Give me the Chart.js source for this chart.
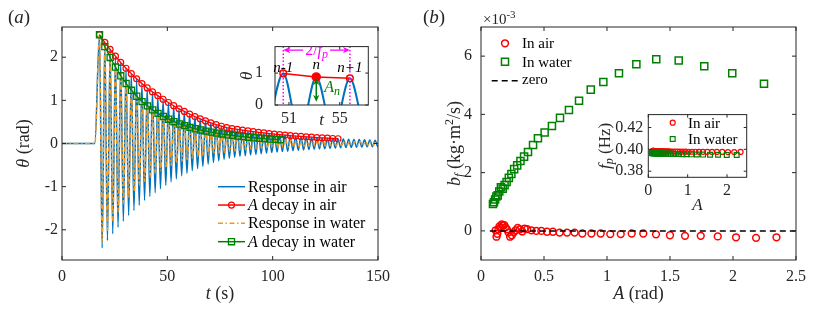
<!DOCTYPE html>
<html><head><meta charset="utf-8">
<script src="https://cdn.jsdelivr.net/npm/chart.js@4.4.1/dist/chart.umd.min.js"></script>
<style>
html,body{margin:0;padding:0;background:#fff;}
#wrap{position:relative;width:830px;height:312px;overflow:hidden;background:#fff;}
#wrap canvas{position:absolute;}
</style></head><body>
<div id="wrap">
<canvas id="cA" width="415" height="312" style="left:0;top:0;width:415px;height:312px"></canvas>
<canvas id="cB" width="415" height="312" style="left:415px;top:0;width:415px;height:312px"></canvas>
<canvas id="cAi" width="150" height="110" style="left:230px;top:25px;width:150px;height:110px"></canvas>
<canvas id="cBi" width="160" height="115" style="left:595px;top:100px;width:160px;height:115px"></canvas>
</div>
<script>
// ---------------- DATA ----------------
// (a) time response, t in s, theta in rad
const tTicks = [0, 50, 100, 150];
const thetaTicks = [-2, -1, 0, 1, 2];
const preT = [0, 15.6];
const preTheta = [0, 0];
const airPeakT = [17.80,20.32,22.83,25.35,27.86,30.38,32.90,35.41,37.93,40.44,42.96,45.48,47.99,50.51,53.02,55.54,58.06,60.57,63.09,65.60,68.12,70.64,73.15,75.67,78.18,80.70,83.22,85.73,88.25,90.76,93.28,95.80,98.31,100.83,103.34,105.86,108.38,110.89,113.41,115.92,118.44,120.96,123.47,125.99,128.50,131.02,133.54,136.05,138.57,141.08,143.60,146.12,148.63,151.15];
const airPeakTheta = [2.52,2.345,2.183,2.024,1.879,1.744,1.619,1.50,1.389,1.288,1.196,1.109,1.026,0.95,0.876,0.804,0.743,0.683,0.624,0.571,0.524,0.479,0.439,0.40,0.367,0.346,0.327,0.309,0.291,0.275,0.26,0.245,0.231,0.218,0.206,0.195,0.184,0.173,0.164,0.155,0.146,0.138,0.130,0.123,0.116,0.11,0.105,0.10,0.095,0.09,0.086,0.082,0.078,0.075];
const airDecayCount = 46;
const airTroughT = [19.06,21.58,24.09,26.61,29.12,31.64,34.16,36.67,39.19,41.70,44.22,46.74,49.25,51.77,54.28,56.80,59.32,61.83,64.35,66.86,69.38,71.90,74.41,76.93,79.44,81.96,84.48,86.99,89.51,92.02,94.54,97.06,99.57,102.09,104.60,107.12,109.64,112.15,114.67,117.18,119.70,122.22,124.73,127.25,129.76,132.28,134.80,137.31,139.83,142.34,144.86,147.38,149.89];
const airTroughTheta = [-2.42,-2.25,-2.09,-1.94,-1.80,-1.67,-1.55,-1.43,-1.32,-1.23,-1.14,-1.05,-0.97,-0.89,-0.82,-0.75,-0.69,-0.63,-0.58,-0.53,-0.48,-0.44,-0.40,-0.365,-0.34,-0.32,-0.30,-0.285,-0.268,-0.253,-0.238,-0.224,-0.211,-0.199,-0.188,-0.178,-0.168,-0.159,-0.15,-0.141,-0.133,-0.126,-0.119,-0.112,-0.106,-0.10,-0.095,-0.09,-0.086,-0.082,-0.078,-0.074,-0.071];
const waterPeakT = [17.80,20.33,22.85,25.38,27.90,30.43,32.95,35.48,38.00,40.53,43.05,45.58,48.10,50.63,53.15,55.68,58.20,60.73,63.25,65.78,68.30,70.83,73.35,75.88,78.40,80.93,83.45,85.98,88.50,91.03,93.55,96.08,98.60,101.13,103.65,106.18,108.70,111.23,113.75,116.28,118.80,121.33,123.85,126.38,128.90,131.43,133.95,136.48,139.00,141.53,144.05,146.58,149.10,151.63];
const waterPeakTheta = [2.52,2.246,1.994,1.772,1.569,1.391,1.233,1.095,0.971,0.871,0.778,0.698,0.627,0.563,0.505,0.452,0.413,0.373,0.342,0.313,0.287,0.263,0.241,0.221,0.203,0.187,0.172,0.158,0.145,0.133,0.122,0.112,0.103,0.095,0.088,0.082,0.077,0.073,0.069,0.066,0.063,0.06,0.058,0.056,0.054,0.052,0.05,0.048,0.046,0.045,0.044,0.043,0.042,0.041];
const waterDecayCount = 35;
const waterTroughT = [19.06,21.59,24.11,26.64,29.16,31.69,34.21,36.74,39.26,41.79,44.31,46.84,49.36,51.89,54.41,56.94,59.46,61.99,64.51,67.04,69.56,72.09,74.61,77.14,79.66,82.19,84.71,87.24,89.76,92.29,94.81,97.34,99.86,102.39,104.91,107.44,109.96,112.49,115.01,117.54,120.06,122.59,125.11,127.64,130.16,132.69,135.21,137.74,140.26,142.79,145.31,147.84,150.36];
const waterTroughTheta = [-2.26,-2.01,-1.79,-1.59,-1.41,-1.25,-1.11,-0.98,-0.875,-0.78,-0.70,-0.63,-0.565,-0.507,-0.455,-0.41,-0.373,-0.34,-0.311,-0.285,-0.261,-0.239,-0.219,-0.201,-0.185,-0.171,-0.157,-0.144,-0.132,-0.121,-0.111,-0.102,-0.094,-0.087,-0.081,-0.076,-0.071,-0.067,-0.064,-0.061,-0.058,-0.056,-0.054,-0.052,-0.05,-0.048,-0.047,-0.045,-0.043,-0.042,-0.041,-0.04,-0.039];

// (a) inset: zoom on peaks n-1, n, n+1
const insetTTicks = [51, 55];
const insetThetaTicks = [0, 1];
const insetRespT = [49.25,50.55,51.85,53.15,54.48,55.80,57.10,58.40];
const insetRespTheta = [-1.0,0.99,-0.93,0.88,-0.86,0.84,-0.80,0.78];
const insetPeakT = [50.55, 53.15, 55.80];
const insetPeakTheta = [0.99, 0.88, 0.84];
const insetPeakLabels = ['n-1', 'n', 'n+1'];
const periodArrowTheta = 1.72;
const amplitudeArrowTheta = [0.84, 0.10];

// (b) damping coefficient b_f (x 1e-3 kg m^2/s) vs amplitude A (rad)
const ATicks = [0, 0.5, 1, 1.5, 2, 2.5];
const bfTicks = [0, 2, 4, 6];
const bfAirA = [2.345,2.183,2.024,1.879,1.744,1.619,1.50,1.389,1.288,1.196,1.109,1.026,0.95,0.876,0.804,0.743,0.683,0.624,0.571,0.524,0.479,0.439,0.40,0.367,0.346,0.327,0.309,0.291,0.275,0.26,0.245,0.231,0.218,0.206,0.195,0.184,0.173,0.164,0.155,0.146,0.138,0.130,0.123,0.116];
const bfAir = [-0.22,-0.24,-0.22,-0.19,-0.17,-0.17,-0.15,-0.12,-0.09,-0.09,-0.11,-0.11,-0.09,-0.09,-0.09,-0.06,-0.06,-0.06,-0.03,-0.03,0.00,0.00,0.02,0.06,0.08,-0.02,0.05,0.10,0.02,-0.05,-0.15,-0.20,-0.05,0.05,0.12,0.20,0.18,0.22,0.10,0.15,0.05,-0.10,-0.20,0.02];
const bfWaterA = [2.246,1.994,1.772,1.569,1.391,1.233,1.095,0.971,0.871,0.778,0.698,0.627,0.563,0.505,0.452,0.413,0.373,0.342,0.313,0.287,0.263,0.241,0.221,0.203,0.187,0.172,0.158,0.145,0.133,0.122,0.112,0.103,0.095];
const bfWater = [5.05,5.41,5.65,5.85,5.89,5.72,5.41,5.11,4.85,4.47,4.15,3.88,3.60,3.38,3.18,2.95,2.71,2.55,2.40,2.25,2.12,1.95,1.82,1.68,1.57,1.45,1.50,1.35,1.22,1.18,1.08,0.98,0.92];
const zeroA = [0.07, 2.5];
const zeroBf = [0, 0];

// (b) inset: peak frequency f_p (Hz) vs A
const fpATicks = [0, 1, 2];
const fpTicks = [0.38, 0.40, 0.42];
const fpAir = [0.3976,0.3975,0.3975,0.3976,0.3976,0.3976,0.3977,0.3977,0.3977,0.3978,0.3978,0.3978,0.3979,0.3979,0.3979,0.3980,0.3980,0.3980,0.3980,0.3981,0.3981,0.3981,0.3981,0.3982,0.3982,0.3982,0.3982,0.3982,0.3983,0.3983,0.3983,0.3983,0.3983,0.3983,0.3984,0.3984,0.3984,0.3984,0.3984,0.3984,0.3985,0.3985,0.3985,0.3985];
const fpWater = [0.3948,0.3949,0.3950,0.3951,0.3952,0.3953,0.3954,0.3955,0.3956,0.3957,0.3958,0.3959,0.3960,0.3960,0.3961,0.3961,0.3962,0.3962,0.3962,0.3963,0.3963,0.3963,0.3964,0.3964,0.3964,0.3964,0.3965,0.3965,0.3965,0.3965,0.3965,0.3966,0.3966];

// ---------------- STYLE / HELPERS ----------------
const SERIF = '"Liberation Serif","Times New Roman",serif';
const AX = '#262626';
const C = {blue:'#0072BD', orange:'#EE9A26', red:'#FF0000', green:'#008000', mag:'#FF00FF', black:'#000000'};
Chart.defaults.font.family = SERIF;
Chart.defaults.font.size = 16;
Chart.defaults.color = AX;

function fnt(s, i){ return (i ? 'italic ' : '') + s + 'px ' + SERIF; }
function rich(ctx, parts, x, y, align, color){
  let w = 0;
  for (const p of parts){ ctx.font = fnt(p.s, p.i); w += ctx.measureText(p.t).width; }
  let cx = align === 'center' ? x - w/2 : (align === 'right' ? x - w : x);
  ctx.textAlign = 'left'; ctx.textBaseline = 'alphabetic';
  for (const p of parts){ ctx.font = fnt(p.s, p.i); ctx.fillStyle = p.c || color || AX; ctx.fillText(p.t, cx, y + (p.dy || 0)); cx += ctx.measureText(p.t).width; }
  return w;
}
function richRot(ctx, parts, x, y, color){ ctx.save(); ctx.translate(x, y); ctx.rotate(-Math.PI/2); rich(ctx, parts, 0, 0, 'center', color); ctx.restore(); }
function mark(ctx, style, x, y, r, color, lw, fill){
  ctx.save(); ctx.strokeStyle = color; ctx.lineWidth = lw; ctx.beginPath();
  if (style === 'circle') ctx.arc(x, y, r, 0, Math.PI*2);
  else { const s = r * Math.SQRT1_2; ctx.rect(x - s, y - s, 2*s, 2*s); }
  if (fill){ ctx.fillStyle = color; ctx.fill(); }
  ctx.stroke(); ctx.restore();
}
function seg(ctx, x1, y1, x2, y2, color, lw, dash){
  ctx.save(); ctx.strokeStyle = color; ctx.lineWidth = lw; ctx.setLineDash(dash || []);
  ctx.beginPath(); ctx.moveTo(x1, y1); ctx.lineTo(x2, y2); ctx.stroke(); ctx.restore();
}
function head(ctx, xt, yt, dx, dy, color){ // tip at (xt,yt), pointing along (dx,dy)
  const L = 7, W = 3.2, px = -dy, py = dx;
  ctx.save(); ctx.fillStyle = color; ctx.beginPath();
  ctx.moveTo(xt, yt);
  ctx.lineTo(xt - dx*L + px*W, yt - dy*L + py*W);
  ctx.lineTo(xt - dx*L*0.7, yt - dy*L*0.7);
  ctx.lineTo(xt - dx*L - px*W, yt - dy*L - py*W);
  ctx.closePath(); ctx.fill(); ctx.restore();
}
function pts(xs, ys){ return xs.map((x, i) => ({x: x, y: ys[i]})); }
function response(pT, pV, tT, tV){
  const out = pts(preT, preTheta);
  for (let i = 0; i < pT.length; i++){ out.push({x: pT[i], y: pV[i]}); if (i < tT.length) out.push({x: tT[i], y: tV[i]}); }
  return out;
}
function axis(min, max, ticks, o){
  return {
    type: 'linear', min: min, max: max,
    grid: {display: false, drawTicks: false}, border: {display: false},
    afterBuildTicks: s => { s.ticks = ticks.map(v => ({value: v})); },
    afterFit: s => { if (o.w != null) s.width = o.w; if (o.h != null) s.height = o.h; },
    ticks: {padding: o.pad, maxRotation: 0, autoSkip: false, color: AX, font: {size: o.fs || 16, family: SERIF},
      callback: o.fmt || (v => String(v))}
  };
}
const boxTicks = {
  id: 'boxTicks',
  afterDatasetsDraw(chart, args, opts){
    const {ctx, chartArea: a, scales: {x, y}} = chart;
    const L = opts.len || 4;
    ctx.save(); ctx.strokeStyle = AX; ctx.lineWidth = 1; ctx.beginPath();
    for (const t of x.ticks){ const p = x.getPixelForValue(t.value); ctx.moveTo(p, a.bottom); ctx.lineTo(p, a.bottom - L); ctx.moveTo(p, a.top); ctx.lineTo(p, a.top + L); }
    for (const t of y.ticks){ const p = y.getPixelForValue(t.value); ctx.moveTo(a.left, p); ctx.lineTo(a.left + L, p); ctx.moveTo(a.right, p); ctx.lineTo(a.right - L, p); }
    ctx.stroke();
    ctx.strokeRect(a.left, a.top, a.right - a.left, a.bottom - a.top);
    ctx.restore();
  }
};
const whiteBg = { id: 'whiteBg', beforeDraw(chart){ const {ctx, chartArea: a} = chart; ctx.save(); ctx.fillStyle = '#fff'; ctx.fillRect(a.left, a.top, a.right - a.left, a.bottom - a.top); ctx.restore(); } };
const base = { responsive: false, animation: false, events: [], devicePixelRatio: 1 };
const noLegend = { legend: {display: false}, tooltip: {enabled: false} };

// ---------------- (a) MAIN ----------------
const decorA = {
  id: 'decorA',
  afterDraw(chart){
    const {ctx, chartArea: a} = chart;
    rich(ctx, [{t:'(', s:19}, {t:'a', s:19, i:true}, {t:')', s:19}], 8, 23, 'left');
    rich(ctx, [{t:'t', s:18, i:true}, {t:' (s)', s:18}], (a.left + a.right)/2, 299, 'center');
    richRot(ctx, [{t:'θ', s:18, i:true}, {t:' (rad)', s:18}], 29, (a.top + a.bottom)/2);
    const x0 = 218, x1 = 245, tx = 248, b0 = 191.7, dy = 18.33;
    const rows = [
      {parts:[{t:'Response in air', s:16}], c:C.blue, dash:[], m:null},
      {parts:[{t:'A', s:16, i:true}, {t:' decay in air', s:16}], c:C.red, dash:[], m:'circle'},
      {parts:[{t:'Response in water', s:16}], c:C.orange, dash:[5,2.5,1.5,2.5], m:null},
      {parts:[{t:'A', s:16, i:true}, {t:' decay in water', s:16}], c:C.green, dash:[], m:'rect'}
    ];
    rows.forEach((r, i) => {
      const bl = b0 + i*dy, ly = bl - 5;
      seg(ctx, x0, ly, x1, ly, r.c, 1.5, r.dash);
      if (r.m === 'circle') mark(ctx, 'circle', (x0 + x1)/2, ly, 3, r.c, 1.2);
      if (r.m === 'rect') mark(ctx, 'rect', (x0 + x1)/2, ly, 4.3, r.c, 1.3);
      rich(ctx, r.parts, tx, bl, 'left', '#000');
    });
  }
};
new Chart(document.getElementById('cA'), {
  type: 'line',
  data: {datasets: [
    {label:'Response in air', data: response(airPeakT, airPeakTheta, airTroughT, airTroughTheta), borderColor: C.blue, borderWidth: 1.5, pointRadius: 0, cubicInterpolationMode: 'monotone', capBezierPoints: false, order: 4},
    {label:'A decay in air', data: pts(airPeakT.slice(0, airDecayCount), airPeakTheta.slice(0, airDecayCount)), borderColor: C.red, borderWidth: 1.3, pointRadius: 3, pointStyle: 'circle', pointBorderColor: C.red, pointBackgroundColor: 'rgba(0,0,0,0)', pointBorderWidth: 1.2, order: 3},
    {label:'Response in water', data: response(waterPeakT, waterPeakTheta, waterTroughT, waterTroughTheta), borderColor: C.orange, borderWidth: 1.5, borderDash: [5,2.5,1.5,2.5], pointRadius: 0, cubicInterpolationMode: 'monotone', capBezierPoints: false, order: 2},
    {label:'A decay in water', data: pts(waterPeakT.slice(0, waterDecayCount), waterPeakTheta.slice(0, waterDecayCount)), borderColor: C.green, borderWidth: 1.3, pointRadius: 4.3, pointStyle: 'rect', pointBorderColor: C.green, pointBackgroundColor: 'rgba(0,0,0,0)', pointBorderWidth: 1.3, order: 1}
  ]},
  options: Object.assign({}, base, {
    layout: {padding: {left: 0, right: 37, top: 27, bottom: 0}},
    scales: {x: axis(0, 150, tTicks, {h: 52, pad: 7}), y: axis(-2.7, 2.7, thetaTicks, {w: 62, pad: 4})},
    plugins: Object.assign({}, noLegend, {boxTicks: {len: 4}})
  }),
  plugins: [boxTicks, decorA]
});

// ---------------- (a) INSET ----------------
const decorAi = {
  id: 'decorAi',
  afterDatasetsDraw(chart){
    const {ctx, chartArea: a, scales: {x, y}} = chart;
    ctx.save(); ctx.beginPath(); ctx.rect(a.left, a.top, a.right - a.left, a.bottom - a.top); ctx.clip();
    const xa = x.getPixelForValue(insetPeakT[0]), xb = x.getPixelForValue(insetPeakT[2]);
    seg(ctx, xa, a.top, xa, a.bottom, C.mag, 1.5, [1.5, 2]);
    seg(ctx, xb, a.top, xb, a.bottom, C.mag, 1.5, [1.5, 2]);
    // period arrow
    const ay = y.getPixelForValue(periodArrowTheta), xm = (xa + xb)/2;
    const w = rich(ctx, [{t:'2/', s:16}, {t:'f', s:16, i:true}, {t:'p', s:12, i:true, dy:3}], xm, ay + 5, 'center', C.mag);
    seg(ctx, xa + 3, ay, xm - w/2 - 2, ay, C.mag, 1.3);
    seg(ctx, xm + w/2 + 2, ay, xb - 3, ay, C.mag, 1.3);
    head(ctx, xa, ay, -1, 0, C.mag); head(ctx, xb, ay, 1, 0, C.mag);
    // amplitude arrow
    const gx = x.getPixelForValue(insetPeakT[1]);
    const gy0 = y.getPixelForValue(amplitudeArrowTheta[0]), gy1 = y.getPixelForValue(amplitudeArrowTheta[1]);
    seg(ctx, gx, gy0 + 3, gx, gy1 - 3, C.green, 1.5);
    head(ctx, gx, gy0, 0, -1, C.green); head(ctx, gx, gy1, 0, 1, C.green);
    rich(ctx, [{t:'A', s:16, i:true}, {t:'n', s:12, i:true, dy:3}], gx + 8, y.getPixelForValue(0.4), 'left', C.green);
    ctx.restore();
    const bls = [25, 22.3, 25];
    insetPeakLabels.forEach((lab, i) => {
      rich(ctx, [{t: lab, s:15, i:true}], x.getPixelForValue(insetPeakT[i]), a.top + bls[i], 'center', '#000');
    });
  },
  afterDraw(chart){
    const {ctx, chartArea: a} = chart;
    rich(ctx, [{t:'t', s:17, i:true}], (a.left + a.right)/2, 100, 'center');
    richRot(ctx, [{t:'θ', s:17, i:true}], 22, (a.top + a.bottom)/2);
  }
};
new Chart(document.getElementById('cAi'), {
  type: 'line',
  data: {datasets: [
    {data: pts(insetRespT, insetRespTheta), borderColor: C.blue, borderWidth: 2, pointRadius: 0, cubicInterpolationMode: 'monotone', capBezierPoints: false, order: 2},
    {data: pts(insetPeakT, insetPeakTheta), borderColor: C.red, borderWidth: 1.5, pointRadius: [3.3, 4, 3.3], pointStyle: 'circle', pointBorderColor: C.red, pointBackgroundColor: ['rgba(0,0,0,0)', C.red, 'rgba(0,0,0,0)'], pointBorderWidth: 1.5, order: 1}
  ]},
  options: Object.assign({}, base, {
    layout: {padding: {left: 0, right: 11.7, top: 11, bottom: 0}},
    scales: {x: axis(49.9, 57.25, insetTTicks, {h: 30, pad: 4.5}), y: axis(0, 1.83, insetThetaTicks, {w: 45, pad: 12})},
    plugins: Object.assign({}, noLegend, {boxTicks: {len: 3}})
  }),
  plugins: [whiteBg, boxTicks, decorAi]
});

// ---------------- (b) MAIN ----------------
const decorB = {
  id: 'decorB',
  afterDraw(chart){
    const {ctx, chartArea: a} = chart;
    rich(ctx, [{t:'(', s:19}, {t:'b', s:19, i:true}, {t:')', s:19}], 8, 23, 'left');
    rich(ctx, [{t:'×10', s:15}, {t:'-3', s:11, dy:-6}], 68, 24, 'left');
    rich(ctx, [{t:'A', s:18, i:true}, {t:' (rad)', s:18}], (a.left + a.right)/2, 299, 'center');
    richRot(ctx, [{t:'b', s:18, i:true}, {t:'f', s:13, i:true, dy:3}, {t:' (kg·m', s:18}, {t:'2', s:12, dy:-7}, {t:'/s)', s:18}], 45, (a.top + a.bottom)/2);
    mark(ctx, 'circle', 90, 43.3, 3.4, C.red, 1.5);
    rich(ctx, [{t:'In air', s:15}], 107, 48.3, 'left', '#000');
    mark(ctx, 'rect', 90, 61.7, 5, C.green, 1.5);
    rich(ctx, [{t:'In water', s:15}], 107, 66.7, 'left', '#000');
    seg(ctx, 76.7, 80.7, 106, 80.7, C.black, 1.5, [6, 4]);
    rich(ctx, [{t:'zero', s:15}], 107, 84, 'left', '#000');
  }
};
new Chart(document.getElementById('cB'), {
  type: 'line',
  data: {datasets: [
    {label:'In air', data: pts(bfAirA, bfAir), showLine: false, pointRadius: 3.4, pointStyle: 'circle', pointBorderColor: C.red, pointBackgroundColor: 'rgba(0,0,0,0)', pointBorderWidth: 1.5, order: 2},
    {label:'In water', data: pts(bfWaterA, bfWater), showLine: false, pointRadius: 5, pointStyle: 'rect', pointBorderColor: C.green, pointBackgroundColor: 'rgba(0,0,0,0)', pointBorderWidth: 1.5, order: 1},
    {label:'zero', data: pts(zeroA, zeroBf), borderColor: C.black, borderWidth: 1.5, borderDash: [6, 4], pointRadius: 0, order: 0}
  ]},
  options: Object.assign({}, base, {
    layout: {padding: {left: 0, right: 34, top: 27, bottom: 0}},
    scales: {x: axis(0, 2.5, ATicks, {h: 52, pad: 7}), y: axis(-1, 7, bfTicks, {w: 66, pad: 9})},
    plugins: Object.assign({}, noLegend, {boxTicks: {len: 4}})
  }),
  plugins: [boxTicks, decorB]
});

// ---------------- (b) INSET ----------------
const decorBi = {
  id: 'decorBi',
  afterDraw(chart){
    const {ctx, chartArea: a} = chart;
    mark(ctx, 'circle', 77.7, 22.7, 2.5, C.red, 1.2);
    rich(ctx, [{t:'In air', s:15}], 93, 27.7, 'left', '#000');
    mark(ctx, 'rect', 77.7, 39, 3.4, C.green, 1.2);
    rich(ctx, [{t:'In water', s:15}], 93, 44, 'left', '#000');
    rich(ctx, [{t:'A', s:17, i:true}], (a.left + a.right)/2, 110.3, 'center');
    richRot(ctx, [{t:'f', s:17, i:true}, {t:'p', s:12, i:true, dy:3}, {t:' (Hz)', s:17}], 15, (a.top + a.bottom)/2);
  }
};
new Chart(document.getElementById('cBi'), {
  type: 'line',
  data: {datasets: [
    {label:'In air', data: pts(bfAirA, fpAir), showLine: false, pointRadius: 2.5, pointStyle: 'circle', pointBorderColor: C.red, pointBackgroundColor: 'rgba(0,0,0,0)', pointBorderWidth: 1.2, order: 2},
    {label:'In water', data: pts(bfWaterA, fpWater), showLine: false, pointRadius: 3.4, pointStyle: 'rect', pointBorderColor: C.green, pointBackgroundColor: 'rgba(0,0,0,0)', pointBorderWidth: 1.2, order: 1}
  ]},
  options: Object.assign({}, base, {
    layout: {padding: {left: 0, right: 8.3, top: 9.3, bottom: 0}},
    scales: {x: axis(0, 2.5, fpATicks, {h: 37.7, pad: 4}), y: axis(0.3744, 0.4318, fpTicks, {w: 53.3, pad: 5, fmt: v => v.toFixed(2)})},
    plugins: Object.assign({}, noLegend, {boxTicks: {len: 3}})
  }),
  plugins: [whiteBg, boxTicks, decorBi]
});
</script>
</body></html>
